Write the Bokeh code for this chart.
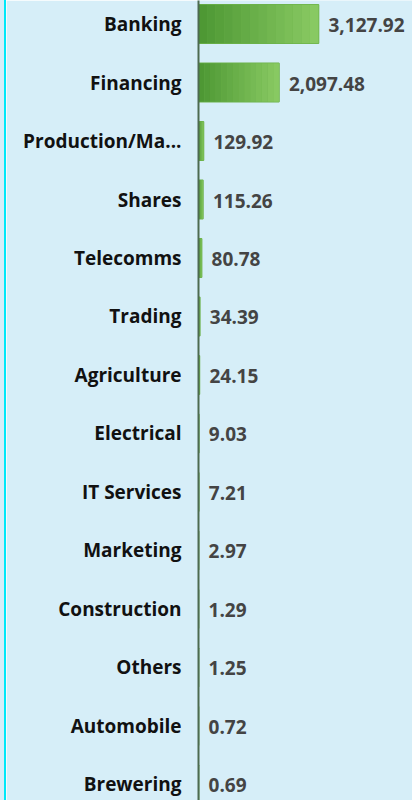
from bokeh.plotting import figure
from bokeh.models import Range1d, ColumnDataSource, FixedTicker, Spacer
from bokeh.layouts import row
from bokeh.core.properties import value
from bokeh.embed import file_html
from bokeh.resources import INLINE

categories = ["Banking", "Financing", "Production/Ma...", "Shares", "Telecomms",
              "Trading", "Agriculture", "Electrical", "IT Services", "Marketing",
              "Construction", "Others", "Automobile", "Brewering"]
values = [3127.92, 2097.48, 129.92, 115.26, 80.78, 34.39, 24.15, 9.03, 7.21,
          2.97, 1.29, 1.25, 0.72, 0.69]

labels = [f"{v:,.2f}" for v in values]
rows = list(range(len(categories)))

bg = "#d6eef8"
W, H = 406, 800
p = figure(width=W, height=H, output_backend="svg", toolbar_location=None,
           y_range=Range1d(13.274, -0.402),
           x_range=Range1d(0, 5578), x_axis_location=None,
           min_border_left=192, min_border_right=0, min_border_top=0, min_border_bottom=0)

p.background_fill_color = bg
p.border_fill_color = bg
p.outline_line_color = None
p.xgrid.visible = False
p.ygrid.visible = False

src = ColumnDataSource(dict(row=rows, val=values, lab=labels))

# base bar (gives thin bars a visible minimum width)
p.hbar(y="row", left=0, right="val", height=0.66, source=src,
       fill_color="#6cb24a", line_color="#6cb24a", line_width=1.6)

# horizontal gradient made of slices of each bar
N = 14
c0 = (78, 152, 52)
c1 = (136, 201, 98)
for k in range(N):
    t = k / (N - 1)
    col = "#%02x%02x%02x" % tuple(int(round(a + (b - a) * t)) for a, b in zip(c0, c1))
    p.hbar(y=rows, left=[v * k / N for v in values],
           right=[v * (k + 1) / N for v in values], height=0.66,
           fill_color=col, line_color=None)

p.text(x="val", y="row", text="lab", source=src, x_offset=10, y_offset=1,
       text_baseline="middle", text_align="left",
       text_font=value("Open Sans"), text_font_style="bold",
       text_font_size="19px", text_color="#444444")

ax = p.yaxis[0]
ax.ticker = FixedTicker(ticks=rows)
ax.major_label_overrides = {r: c for r, c in zip(rows, categories)}
ax.axis_line_color = "#4d6a50"
ax.axis_line_width = 2
ax.major_tick_line_color = None
ax.minor_tick_line_color = None
ax.major_label_text_font = "Open Sans"
ax.major_label_text_font_style = "bold"
ax.major_label_text_font_size = "19px"
ax.major_label_text_color = "#111111"
ax.major_label_standoff = 11

left_pad = Spacer(width=4, height=H, styles={"background-color": bg})
cyan_line = Spacer(width=2, height=H, styles={"background-color": "#00e8f8"})
layout = row(left_pad, cyan_line, p, spacing=0)

open("out.html", "w").write(file_html(layout, INLINE))
